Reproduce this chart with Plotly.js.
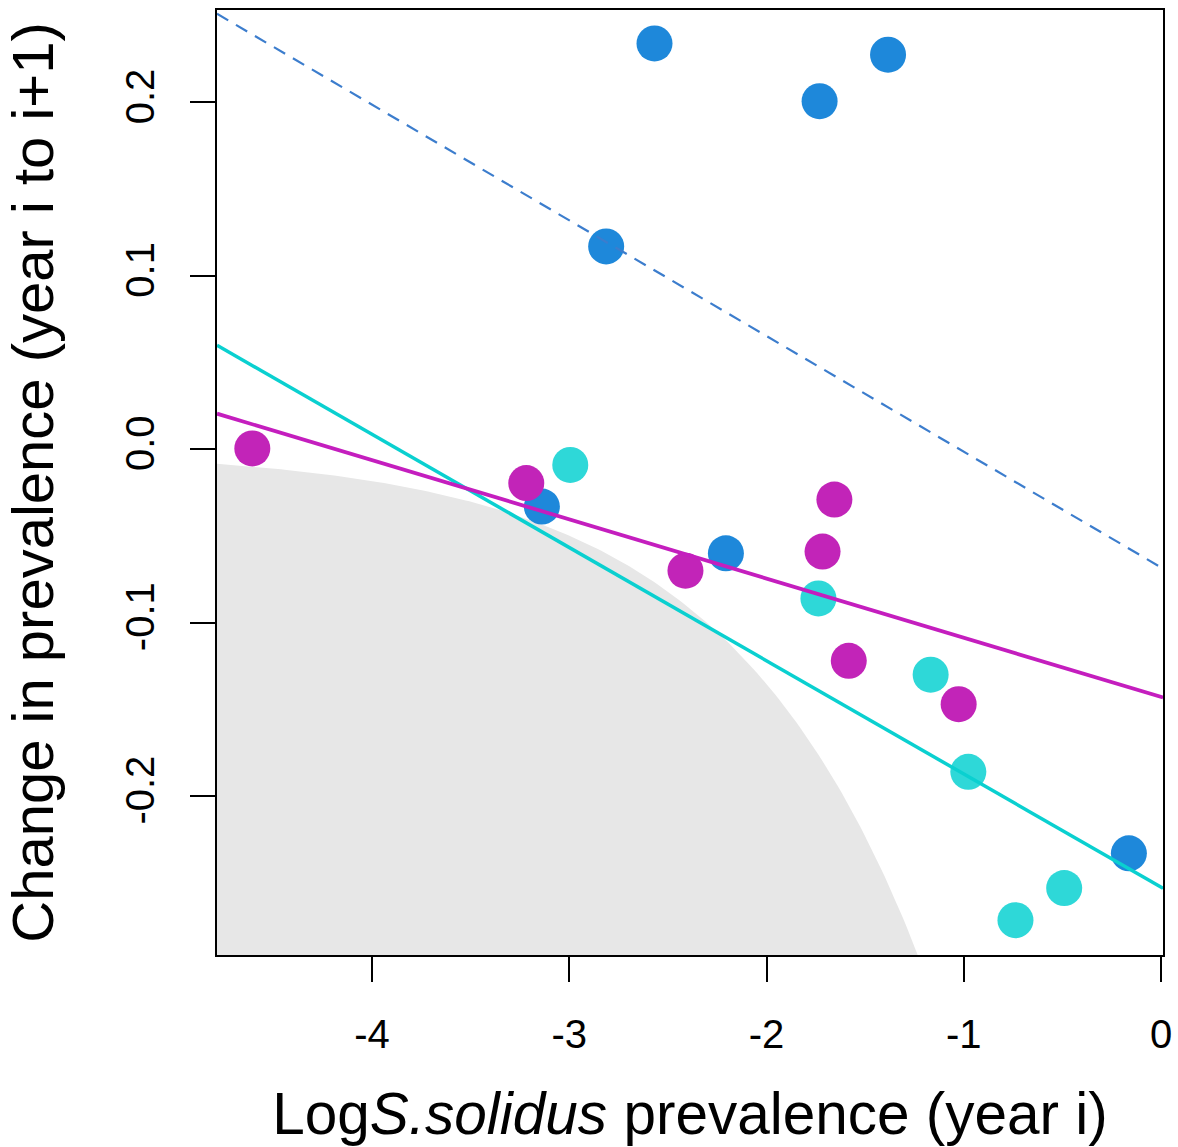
<!DOCTYPE html>
<html>
<head>
<meta charset="utf-8">
<script src="https://cdn.plot.ly/plotly-3.0.1.min.js"></script>
<style>
  html, body { margin: 0; padding: 0; background: #ffffff; }
  #chart { width: 1178px; height: 1147px; }
</style>
</head>
<body>
<div id="chart"></div>
<script>
// ---- data ----
// x: log S. solidus prevalence (year i); y: change in prevalence (year i to i+1)
const blueX    = [-2.568, -1.731, -1.384, -2.813, -3.139, -2.206, -0.163];
const blueY    = [ 0.234,  0.2007, 0.2275, 0.117, -0.033, -0.060, -0.233];
const cyanX    = [-2.995, -1.737, -1.168, -0.977, -0.491, -0.738];
const cyanY    = [-0.009, -0.086, -0.130, -0.186, -0.253, -0.2715];
const magentaX = [-4.607, -3.218, -2.411, -1.656, -1.716, -1.583, -1.026];
const magentaY = [ 0.0005, -0.0195, -0.070, -0.029, -0.059, -0.122, -0.147];

// fitted regression lines: [blue (dashed), cyan, magenta]
const fitIntercept = [-0.0681, -0.2525, -0.1428];
const fitSlope     = [-0.0667, -0.06528, -0.03413];

// axis ticks
const xTicks = [-4, -3, -2, -1, 0];
const xTickText = ["-4", "-3", "-2", "-1", "0"];
const yTicks = [-0.2, -0.1, 0.0, 0.1, 0.2];
const yTickText = ["-0.2", "-0.1", "0.0", "0.1", "0.2"];

const xRange = [-4.786, 0.010];
const yRange = [-0.2916, 0.2533];

// ---- impossible region: change < -prevalence, i.e. y < -exp(x) ----
const regionX = [], regionY = [];
const nSteps = 200;
const xEnd = Math.log(-yRange[0]) + 0.05;
for (let i = 0; i <= nSteps; i++) {
  const x = xRange[0] + (xEnd - xRange[0]) * i / nSteps;
  regionX.push(x);
  regionY.push(-Math.exp(x));
}
regionX.push(xEnd, xRange[0]);
regionY.push(yRange[0] - 0.05, yRange[0] - 0.05);

function fitLine(k) {
  return {
    x: [xRange[0], xRange[1]],
    y: [fitIntercept[k] + fitSlope[k] * xRange[0], fitIntercept[k] + fitSlope[k] * xRange[1]]
  };
}

const FONT = '"Liberation Sans", Arial, Helvetica, sans-serif';

const traces = [
  { x: regionX, y: regionY, type: 'scatter', mode: 'lines', fill: 'toself',
    fillcolor: '#e7e7e7', line: { width: 0, color: 'rgba(0,0,0,0)' }, hoverinfo: 'skip', showlegend: false },
  { x: blueX, y: blueY, type: 'scatter', mode: 'markers',
    marker: { size: 36, color: 'rgb(30,136,218)', line: { width: 0 } }, showlegend: false },
  { x: cyanX, y: cyanY, type: 'scatter', mode: 'markers',
    marker: { size: 36, color: 'rgb(46,216,216)', line: { width: 0 } }, showlegend: false },
  { x: magentaX, y: magentaY, type: 'scatter', mode: 'markers',
    marker: { size: 36, color: 'rgb(194,36,184)', line: { width: 0 } }, showlegend: false },
  Object.assign(fitLine(0), { type: 'scatter', mode: 'lines',
    line: { color: 'rgb(60,125,205)', width: 2.2, dash: '13px,9px' }, showlegend: false }),
  Object.assign(fitLine(1), { type: 'scatter', mode: 'lines',
    line: { color: 'rgb(10,208,208)', width: 3.5 }, showlegend: false }),
  Object.assign(fitLine(2), { type: 'scatter', mode: 'lines',
    line: { color: 'rgb(196,30,190)', width: 3.8 }, showlegend: false })
];

const layout = {
  width: 1178, height: 1147,
  margin: { l: 217, r: 15, t: 10, b: 192, pad: 0 },
  paper_bgcolor: '#ffffff', plot_bgcolor: '#ffffff',
  font: { family: FONT, color: '#000000' },
  showlegend: false,
  xaxis: {
    range: xRange, autorange: false,
    tickmode: 'array', tickvals: xTicks, ticktext: xTickText,
    ticks: 'outside', ticklen: 25, tickwidth: 2, tickcolor: '#000',
    tickfont: { size: 40, family: FONT, color: '#000' },
    ticklabelstandoff: 18,
    showline: true, linewidth: 2, linecolor: '#000', mirror: true,
    showgrid: false, zeroline: false,
    title: { text: 'Log<i>S.solidus</i> prevalence (year i)', font: { size: 58.5, family: FONT, color: '#000' }, standoff: 38 }
  },
  yaxis: {
    range: yRange, autorange: false,
    tickmode: 'array', tickvals: yTicks, ticktext: yTickText,
    ticks: 'outside', ticklen: 25, tickwidth: 2, tickcolor: '#000',
    tickfont: { size: 40, family: FONT, color: '#000' },
    tickangle: -90,
    ticklabelstandoff: 20,
    showline: true, linewidth: 2, linecolor: '#000', mirror: true,
    showgrid: false, zeroline: false,
    title: { text: 'Change in prevalence (year i to i+1)', font: { size: 58, family: FONT, color: '#000' }, standoff: 46 }
  }
};

Plotly.newPlot('chart', traces, layout, { displayModeBar: false, staticPlot: true });
</script>
</body>
</html>
